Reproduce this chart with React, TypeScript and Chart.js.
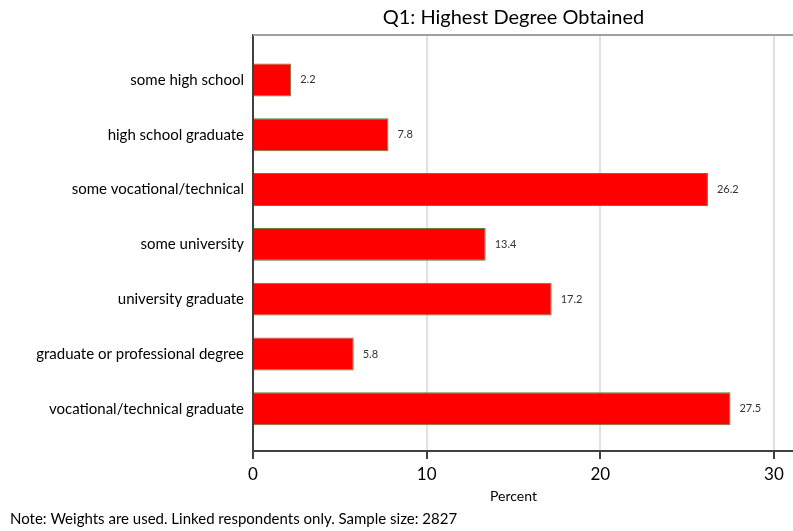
import React, { useEffect, useRef } from "react";
import { Chart, registerables } from "chart.js";

Chart.register(...registerables);

const categories = [
  "some high school",
  "high school graduate",
  "some vocational/technical",
  "some university",
  "university graduate",
  "graduate or professional degree",
  "vocational/technical graduate",
];
const values = [2.2, 7.8, 26.2, 13.4, 17.2, 5.8, 27.5];
const xTicks = [0, 10, 20, 30];
const titleText = "Q1: Highest Degree Obtained";
const axisTitle = "Percent";
const noteText = "Note: Weights are used. Linked respondents only. Sample size: 2827";

const FONT = "Lato, 'Noto Sans', sans-serif";

const decorPlugin = {
  id: "decor",
  afterDraw(chart: any) {
    const { ctx, chartArea } = chart;
    const xs = chart.scales.x;
    const cx = (chartArea.left + xs.getPixelForValue(xTicks[xTicks.length - 1])) / 2;
    ctx.save();
    // top border
    ctx.strokeStyle = "#a0a0a0";
    ctx.lineWidth = 2;
    ctx.beginPath();
    ctx.moveTo(chartArea.left, chartArea.top);
    ctx.lineTo(chartArea.right, chartArea.top);
    ctx.stroke();
    // value labels
    const meta = chart.getDatasetMeta(0);
    ctx.fillStyle = "#333";
    ctx.font = `11px ${FONT}`;
    ctx.textAlign = "left";
    ctx.textBaseline = "middle";
    meta.data.forEach((bar: any, i: number) => {
      ctx.fillText(values[i].toFixed(1), bar.x + 9, bar.y);
    });
    // title
    ctx.fillStyle = "#000";
    ctx.textAlign = "center";
    ctx.font = `20px ${FONT}`;
    ctx.fillText(titleText, cx, 18);
    // axis title
    ctx.font = `14px ${FONT}`;
    ctx.fillText(axisTitle, cx, 496);
    // note
    ctx.textAlign = "left";
    ctx.font = `15px ${FONT}`;
    ctx.fillText(noteText, 10, 519);
    ctx.restore();
  },
};

export default function App() {
  const ref = useRef<HTMLCanvasElement>(null);
  useEffect(() => {
    document.body.style.margin = "0";
    const chart = new Chart(ref.current as HTMLCanvasElement, {
      type: "bar",
      data: {
        datasets: [
          {
            data: values.map((v, i) => ({ x: v, y: i })),
            backgroundColor: "#ff0000",
            borderColor: "#5f7f3a",
            borderWidth: 1,
            barPercentage: 0.75,
            categoryPercentage: 0.8,
          },
        ],
      },
      options: {
        indexAxis: "y",
        animation: false,
        responsive: true,
        maintainAspectRatio: false,
        layout: { padding: { top: 35, left: 0, right: 0, bottom: 0 } },
        plugins: { legend: { display: false }, tooltip: { enabled: false }, title: { display: false } },
        scales: {
          x: {
            type: "linear",
            min: 0,
            max: 31.1,
            afterBuildTicks: (s: any) => {
              s.ticks = xTicks.map((v) => ({ value: v }));
            },
            afterFit: (s: any) => {
              s.height = 80;
            },
            ticks: { font: { family: FONT, size: 17 }, color: "#000", padding: 5 },
            grid: {
              color: (c: any) => (c.tick && c.tick.value === 0 ? "rgba(0,0,0,0)" : "#e0e0e0"),
              lineWidth: 2,
              tickColor: "#404040",
              tickLength: 8,
              tickWidth: 2,
            },
            border: { color: "#404040", width: 2 },
          },
          y: {
            type: "linear",
            reverse: true,
            offset: false,
            min: -0.82,
            max: 6.77,
            afterBuildTicks: (s: any) => {
              s.ticks = categories.map((_, i) => ({ value: i }));
            },
            afterFit: (s: any) => {
              s.width = 253;
            },
            ticks: {
              callback: (v: any) => categories[v] ?? "",
              font: { family: FONT, size: 15 },
              color: "#000",
              padding: 9,
            },
            grid: { display: false, drawTicks: false },
            border: { color: "#404040", width: 2 },
          },
        },
      },
      plugins: [decorPlugin],
    } as any);
    return () => chart.destroy();
  }, []);
  return (
    <div style={{ width: 793, height: 531, position: "relative" }}>
      <canvas ref={ref} />
    </div>
  );
}
